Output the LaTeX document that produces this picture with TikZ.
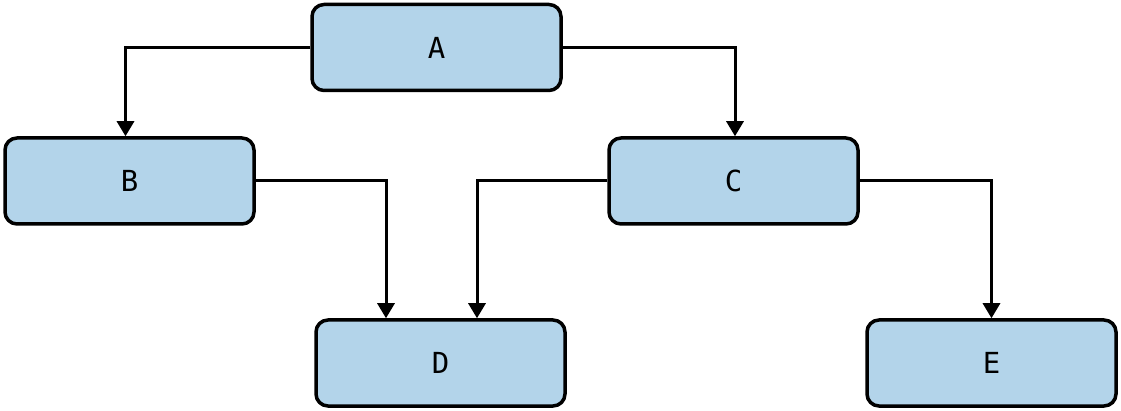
\documentclass[tikz,border=0pt]{standalone}
\usepackage{fontspec}
\setmonofont{DejaVu Sans Mono}
\usepackage{tikz}
\usetikzlibrary{arrows.meta,calc}
\definecolor{boxblue}{RGB}{179,212,234}
\tikzstyle{box} = [rectangle, draw, line width=3.5pt, rounded corners=12pt, fill=boxblue, minimum width=249pt, minimum height=86pt, inner sep=0pt, font=\ttfamily\fontsize{29}{32}\selectfont]
\tikzstyle{link} = [line width=3pt, -{Triangle[width=17pt,length=15pt]}]

\begin{document}
\begin{tikzpicture}[x=1pt,y=-1pt]
\useasboundingbox (0,0) rectangle (1121,411);

\node[box] (A) at (436.5,47.5) {A};
\node[box] (B) at (129.5,181) {B};
\node[box] (C) at (733.5,181) {C};
\node[box] (D) at (440.5,363) {D};
\node[box] (E) at (991.5,363) {E};

    \draw[link] (A.west) -| ([xshift=-4pt]B.north);
    \draw[link] (A.east) -| ([xshift=1.5pt]C.north);
    \draw[link] (B.east) -| ([xshift=-54.5pt]D.north);
    \draw[link] (C.west) -| ([xshift=36.5pt]D.north);
    \draw[link] (C.east) -| (E.north);
\end{tikzpicture}
\end{document}
